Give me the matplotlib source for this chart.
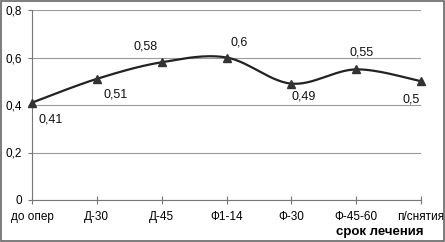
import numpy as np
import matplotlib.pyplot as plt
from matplotlib.patches import Rectangle

plt.rcParams['font.family'] = ['Liberation Sans', 'DejaVu Sans']

categories = ["до опер", "Д-30", "Д-45", "Ф1-14", "Ф-30", "Ф-45-60", "п/снятия"]
values = [0.41, 0.51, 0.58, 0.6, 0.49, 0.55, 0.5]
y_ticks = [0, 0.2, 0.4, 0.6, 0.8]
# label offsets in points (dx, dy, ha)
label_pos = [(5, -12, "left"), (5, -11, "left"), (-3, 11, "right"), (3, 11, "left"),
             (0, -9, "left"), (4, 12, "center"), (-1, -13, "right")]


def fmt(v):
    return ("%g" % v).replace(".", ",")


def smooth(x, y, n=30):
    # Catmull-Rom style smoothing (similar to spreadsheet smoothed lines)
    x = np.asarray(x, float)
    y = np.asarray(y, float)
    px = np.concatenate([[x[0]], x, [x[-1]]])
    py = np.concatenate([[y[0]], y, [y[-1]]])
    xs, ys = [], []
    for i in range(1, len(px) - 2):
        p0, p1, p2, p3 = [np.array([px[j], py[j]]) for j in (i - 1, i, i + 1, i + 2)]
        c1 = p1 + (p2 - p0) / 6
        c2 = p2 - (p3 - p1) / 6
        t = np.linspace(0, 1, n)[:, None]
        b = (1 - t) ** 3 * p1 + 3 * (1 - t) ** 2 * t * c1 + 3 * (1 - t) * t ** 2 * c2 + t ** 3 * p2
        xs.extend(b[:, 0])
        ys.extend(b[:, 1])
    return xs, ys


fig = plt.figure(figsize=(4.45, 2.42), dpi=100)
ax = fig.add_axes([32 / 445, 1 - 200 / 242, (421 - 32) / 445, 190 / 242])

x = np.arange(len(categories))
sx, sy = smooth(x, values)
ax.plot(sx, sy, color="#222222", lw=1.6, zorder=3)
ax.plot(x, values, linestyle="none", marker="^", color="#333333", markersize=6, zorder=4,
        clip_on=False)

for xi, v, (dx, dy, ha) in zip(x, values, label_pos):
    ax.annotate(fmt(v), (xi, v), xytext=(dx, dy), textcoords="offset points",
                ha=ha, va="center", fontsize=9, color="#111111")

ax.set_xlim(0, len(categories) - 1)
ax.set_ylim(0, 0.8)
ax.set_yticks(y_ticks)
ax.set_yticklabels([fmt(v) for v in y_ticks], fontsize=8.5)
ax.set_xticks(x)
ax.set_xticklabels(categories, fontsize=8.5)
ax.yaxis.grid(True, color="#999999", lw=0.8)
ax.set_axisbelow(True)
for s in ["top", "right"]:
    ax.spines[s].set_visible(False)
ax.spines["left"].set_color("#777777")
ax.spines["bottom"].set_color("#777777")
ax.tick_params(axis="x", direction="inout", length=6, color="#777777", pad=5)
ax.tick_params(axis="y", direction="out", length=3, color="#777777", pad=4)

fig.text(424 / 445, 1 - 232 / 242, "срок лечения", ha="right", va="center",
         fontsize=9.5, fontweight="bold")
fig.patches.append(Rectangle((0.002, 0.004), 0.995, 0.992, transform=fig.transFigure,
                             fill=False, edgecolor="#666666", lw=1.2))

fig.savefig("out.png", dpi=100)
